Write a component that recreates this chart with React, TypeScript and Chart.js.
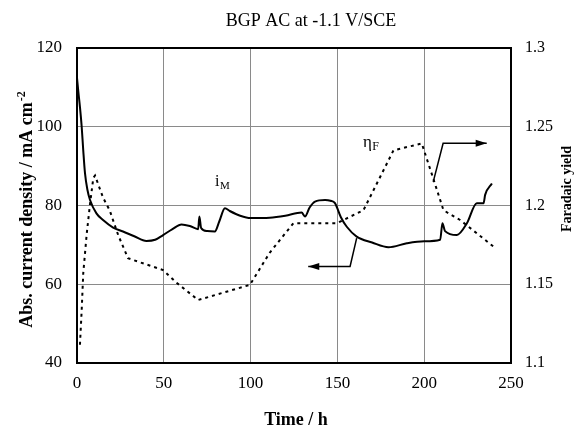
import React, { useEffect, useRef } from "react";
import { Chart, registerables } from "chart.js";

Chart.register(...registerables);

// Solid line: absolute current density (left axis)
const currentTime = [0, 0.75, 1.7, 2.7, 3.6, 4.6, 6, 7.5, 11.2, 15, 20.8, 26.5, 33, 40, 45, 49.6, 55, 60.2, 65, 69.8, 70.5, 71.5, 75, 79.4, 82, 85.2, 88, 94, 100, 111, 120, 129.4, 131.3, 134, 137.1, 142.9, 146, 148.6, 152, 155.4, 161.1, 170, 179.4, 190, 200, 209.2, 210.5, 212, 218.8, 224.6, 230.3, 234.2, 235.1, 239];
const currentValues = [112.4, 109, 105, 100, 94, 88.2, 84, 81.4, 78, 76.3, 74.4, 73.4, 72.2, 71, 71.3, 72.5, 74, 75.2, 74.8, 74, 77.2, 74.3, 73.5, 73.4, 76, 79.3, 78.6, 77.4, 76.8, 76.9, 77.4, 78.2, 77.2, 79.5, 81, 81.4, 81.2, 80.6, 77, 74.6, 72.1, 70.6, 69.4, 70.4, 70.9, 71.3, 75.5, 73.5, 72.5, 75.5, 80.6, 80.6, 82.7, 85.6];

// Dotted line: faradaic yield (right axis)
const yieldTime = [1.7, 2.7, 3.6, 5.6, 7.5, 9.4, 10.4, 15, 18.8, 23.8, 29.4, 49.6, 57.3, 69.8, 99.6, 111, 124.6, 149.6, 165, 182.3, 198.6, 205.2, 211.1, 220.7, 239.9];
const yieldValues = [1.1116, 1.1335, 1.157, 1.182, 1.201, 1.2175, 1.219, 1.205, 1.197, 1.181, 1.1665, 1.159, 1.151, 1.14, 1.1496, 1.17, 1.1887, 1.1887, 1.197, 1.235, 1.2394, 1.2172, 1.197, 1.1908, 1.1739];

const xTicks = [0, 50, 100, 150, 200, 250];
const leftTicks = [40, 60, 80, 100, 120];
const rightTicks = [1.1, 1.15, 1.2, 1.25, 1.3];

const titleText = "BGP AC at -1.1 V/SCE";
const xTitle = "Time / h";
const leftTitle = "Abs. current density / mA cm";
const leftTitleSup = "-2";
const rightTitle = "Faradaic yield";

// annotations in data units (x: hours, y: left axis units)
const leftArrowX = [161.1, 157.3, 133.2];
const leftArrowY = [71.7, 64.5, 64.5];
const rightArrowX = [205.2, 210.9, 236.0];
const rightArrowY = [86.0, 95.8, 95.8];
const labelIM = { x: 79.5, y: 85.0 };
const labelEtaF = { x: 164.7, y: 94.9 };

const SERIF = '"Liberation Serif", "Times New Roman", serif';

const overlayPlugin = {
  id: "overlay",
  beforeDatasetsDraw(chart: any) {
    const { ctx, chartArea } = chart;
    ctx.save();
    ctx.strokeStyle = "#000";
    ctx.lineWidth = 2;
    ctx.strokeRect(chartArea.left, chartArea.top, chartArea.right - chartArea.left, chartArea.bottom - chartArea.top);
    ctx.restore();
  },
  afterDraw(chart: any) {
    const { ctx, chartArea, scales } = chart;
    const xs = scales.x;
    const ys = scales.y;
    ctx.save();
    ctx.fillStyle = "#000";
    ctx.strokeStyle = "#000";

    // title
    ctx.font = `18px ${SERIF}`;
    ctx.textAlign = "center";
    ctx.textBaseline = "middle";
    ctx.fillText(titleText, (chartArea.left + chartArea.right) / 2 + 17, 21);

    // x title
    ctx.font = `bold 18px ${SERIF}`;
    ctx.fillText(xTitle, (chartArea.left + chartArea.right) / 2 + 2, 420);

    // left title with superscript
    ctx.save();
    ctx.translate(26, 210);
    ctx.rotate(-Math.PI / 2);
    ctx.font = `bold 18px ${SERIF}`;
    const w1 = ctx.measureText(leftTitle).width;
    ctx.font = `bold 12px ${SERIF}`;
    const w2 = ctx.measureText(leftTitleSup).width;
    const start = -(w1 + w2) / 2;
    ctx.textAlign = "left";
    ctx.textBaseline = "alphabetic";
    ctx.font = `bold 18px ${SERIF}`;
    ctx.fillText(leftTitle, start, 6);
    ctx.font = `bold 12px ${SERIF}`;
    ctx.fillText(leftTitleSup, start + w1 + 1, -1);
    ctx.restore();

    // right title
    ctx.save();
    ctx.translate(567, 189);
    ctx.rotate(-Math.PI / 2);
    ctx.font = `bold 14px ${SERIF}`;
    ctx.textAlign = "center";
    ctx.textBaseline = "middle";
    ctx.fillText(rightTitle, 0, 0);
    ctx.restore();

    // labels
    ctx.textAlign = "left";
    ctx.textBaseline = "alphabetic";
    let px = xs.getPixelForValue(labelIM.x);
    let py = ys.getPixelForValue(labelIM.y);
    ctx.font = `16px ${SERIF}`;
    ctx.fillText("i", px, py);
    let iw = ctx.measureText("i").width;
    ctx.font = `11px ${SERIF}`;
    ctx.fillText("M", px + iw + 0.5, py + 3.3);

    px = xs.getPixelForValue(labelEtaF.x);
    py = ys.getPixelForValue(labelEtaF.y);
    ctx.font = `17px ${SERIF}`;
    ctx.fillText("\u03B7", px, py);
    iw = ctx.measureText("\u03B7").width;
    ctx.font = `12px ${SERIF}`;
    ctx.fillText("F", px + iw + 0.5, py + 3.5);

    // arrows
    const drawArrow = (axs: number[], ays: number[]) => {
      const pts = axs.map((v, i) => [xs.getPixelForValue(v), ys.getPixelForValue(ays[i])]);
      ctx.lineWidth = 1.5;
      ctx.beginPath();
      ctx.moveTo(pts[0][0], pts[0][1]);
      for (let i = 1; i < pts.length; i++) ctx.lineTo(pts[i][0], pts[i][1]);
      ctx.stroke();
      const [ex, ey] = pts[pts.length - 1];
      const [bx, by] = pts[pts.length - 2];
      const ang = Math.atan2(ey - by, ex - bx);
      const len = 11;
      const half = 3.5;
      ctx.beginPath();
      ctx.moveTo(ex, ey);
      ctx.lineTo(ex - len * Math.cos(ang) + half * Math.sin(ang), ey - len * Math.sin(ang) - half * Math.cos(ang));
      ctx.lineTo(ex - len * Math.cos(ang) - half * Math.sin(ang), ey - len * Math.sin(ang) + half * Math.cos(ang));
      ctx.closePath();
      ctx.fill();
    };
    drawArrow(leftArrowX, leftArrowY);
    drawArrow(rightArrowX, rightArrowY);

    ctx.restore();
  },
};

export default function App() {
  const ref = useRef<HTMLCanvasElement | null>(null);
  useEffect(() => {
    if (!ref.current) return;
    const chart = new Chart(ref.current, {
      type: "line",
      data: {
        datasets: [
          {
            label: "iM",
            data: currentTime.map((t, i) => ({ x: t, y: currentValues[i] })),
            borderColor: "#000",
            borderWidth: 2,
            pointRadius: 0,
            cubicInterpolationMode: "monotone",
            yAxisID: "y",
          },
          {
            label: "etaF",
            data: yieldTime.map((t, i) => ({ x: t, y: yieldValues[i] })),
            borderColor: "#000",
            borderWidth: 2,
            borderDash: [3, 4],
            pointRadius: 0,
            tension: 0,
            yAxisID: "y1",
          },
        ],
      },
      options: {
        responsive: false,
        animation: false,
        layout: { padding: { top: 48, left: 0, right: 0, bottom: 0 } },
        plugins: { legend: { display: false }, title: { display: false }, tooltip: { enabled: false } },
        scales: {
          x: {
            type: "linear",
            min: 0,
            max: 250,
            afterBuildTicks: (s: any) => { s.ticks = xTicks.map((v) => ({ value: v })); },
            afterFit: (s: any) => { s.height = 64; },
            grid: { color: "#8a8a8a", lineWidth: 1, drawTicks: false },
            border: { display: false },
            ticks: { color: "#000", font: { family: SERIF, size: 17 }, padding: 10, maxRotation: 0 },
          },
          y: {
            type: "linear",
            position: "left",
            min: 40,
            max: 120,
            afterBuildTicks: (s: any) => { s.ticks = leftTicks.map((v) => ({ value: v })); },
            afterFit: (s: any) => { s.width = 77; },
            grid: { color: "#8a8a8a", lineWidth: 1, drawTicks: false },
            border: { display: false },
            ticks: { color: "#000", font: { family: SERIF, size: 17 }, padding: 15 },
          },
          y1: {
            type: "linear",
            position: "right",
            min: 1.1,
            max: 1.3,
            afterBuildTicks: (s: any) => { s.ticks = rightTicks.map((v) => ({ value: v })); },
            afterFit: (s: any) => { s.width = 70; },
            grid: { display: false, drawTicks: false },
            border: { display: false },
            ticks: {
              color: "#000",
              font: { family: SERIF, size: 16 },
              padding: 14,
              callback: (v: any) => String(Number(Number(v).toFixed(2))),
            },
          },
        },
      },
      plugins: [overlayPlugin],
    } as any);
    return () => chart.destroy();
  }, []);
  return (
    <div style={{ position: "fixed", left: 0, top: 0, width: 581, height: 427, background: "#fff" }}>
      <canvas ref={ref} width={581} height={427} style={{ display: "block" }} />
    </div>
  );
}
